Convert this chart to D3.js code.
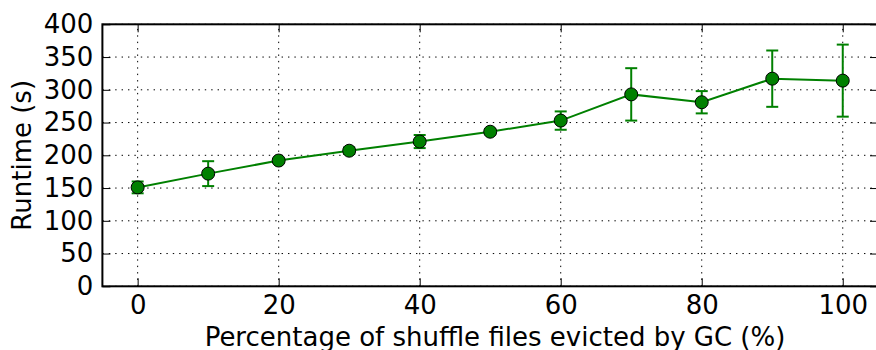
<!DOCTYPE html>
<html>
<head>
<meta charset="utf-8">
<script src="https://cdn.jsdelivr.net/npm/d3@7"></script>
<style>
  body { margin: 0; background: #fff; }
  svg { display: block; font-family: "DejaVu Sans", sans-serif; }
</style>
</head>
<body>
<svg id="chart"></svg>
<script>
const evicted = [0, 10, 20, 30, 40, 50, 60, 70, 80, 90, 100];
const runtime = [151, 172, 192, 207, 221, 236, 253, 293, 281, 317, 314];
const runtimeErr = [9, 19, 3, 5, 10, 4, 14, 40, 17, 43, 55];
const xTicks = [0, 20, 40, 60, 80, 100];
const yTicks = [0, 50, 100, 150, 200, 250, 300, 350, 400];

const width = 876;
const height = 350;
const margin = { top: 24.3, right: -2, bottom: 63.7, left: 102.4 };
const fontSize = 26;

const svg = d3.select("#chart").attr("width", width).attr("height", height);

const x = d3.scaleLinear()
  .domain([-5, 105])
  .range([margin.left, width - margin.right]);
const y = d3.scaleLinear()
  .domain([0, 400])
  .range([height - margin.bottom, margin.top]);

const x0 = x.range()[0], x1 = x.range()[1];
const y0 = y.range()[0], y1 = y.range()[1];

// grid
const grid = svg.append("g")
  .attr("stroke", "#000")
  .attr("stroke-width", 1)
  .attr("stroke-dasharray", "1.4,5");
grid.selectAll(".gx").data(xTicks).enter().append("line")
  .attr("x1", d => x(d)).attr("x2", d => x(d))
  .attr("y1", y0).attr("y2", y1);
grid.selectAll(".gy").data(yTicks).enter().append("line")
  .attr("x1", x0).attr("x2", x1)
  .attr("y1", d => y(d)).attr("y2", d => y(d));

// axes (inward ticks on all four sides)
svg.append("g")
  .attr("transform", `translate(0,${y0})`)
  .call(d3.axisBottom(x).tickValues(xTicks).tickSize(-8).tickPadding(9).tickFormat(d3.format("d")))
  .call(g => g.select(".domain").remove());
svg.append("g")
  .attr("transform", `translate(0,${y1})`)
  .call(d3.axisTop(x).tickValues(xTicks).tickSize(-8).tickFormat(""))
  .call(g => g.select(".domain").remove());
svg.append("g")
  .attr("transform", `translate(${x0},0)`)
  .call(d3.axisLeft(y).tickValues(yTicks).tickSize(-8).tickPadding(9).tickFormat(d3.format("d")))
  .call(g => g.select(".domain").remove());
svg.append("g")
  .attr("transform", `translate(${x1},0)`)
  .call(d3.axisRight(y).tickValues(yTicks).tickSize(-8).tickFormat(""))
  .call(g => g.select(".domain").remove());

svg.selectAll(".tick line").attr("stroke", "#000").attr("stroke-width", 1);
svg.selectAll(".tick text")
  .attr("font-size", fontSize)
  .attr("font-family", "DejaVu Sans")
  .attr("fill", "#000");

svg.append("rect")
  .attr("x", x0).attr("y", y1)
  .attr("width", x1 - x0).attr("height", y0 - y1)
  .attr("fill", "none")
  .attr("stroke", "#000")
  .attr("stroke-width", 2);

// error bars
const pts = evicted.map((d, i) => ({ x: d, v: runtime[i], e: runtimeErr[i] }));
const eb = svg.append("g").attr("stroke", "#008000").attr("stroke-width", 2);
eb.selectAll(".ev").data(pts).enter().append("line")
  .attr("x1", d => x(d.x)).attr("x2", d => x(d.x))
  .attr("y1", d => y(d.v - d.e)).attr("y2", d => y(d.v + d.e));
eb.selectAll(".ct").data(pts).enter().append("line")
  .attr("x1", d => x(d.x) - 6).attr("x2", d => x(d.x) + 6)
  .attr("y1", d => y(d.v + d.e)).attr("y2", d => y(d.v + d.e));
eb.selectAll(".cb").data(pts).enter().append("line")
  .attr("x1", d => x(d.x) - 6).attr("x2", d => x(d.x) + 6)
  .attr("y1", d => y(d.v - d.e)).attr("y2", d => y(d.v - d.e));

// line and markers
svg.append("path")
  .datum(pts)
  .attr("fill", "none")
  .attr("stroke", "#008000")
  .attr("stroke-width", 2)
  .attr("d", d3.line().x(d => x(d.x)).y(d => y(d.v)));

svg.selectAll(".pt").data(pts).enter().append("circle")
  .attr("cx", d => x(d.x))
  .attr("cy", d => y(d.v))
  .attr("r", 6.5)
  .attr("fill", "#008000")
  .attr("stroke", "#000")
  .attr("stroke-width", 1);

// axis titles
svg.append("text")
  .attr("x", 495)
  .attr("y", 346)
  .attr("text-anchor", "middle")
  .attr("font-size", fontSize)
  .text("Percentage of shuffle files evicted by GC (%)");

svg.append("text")
  .attr("transform", `translate(31,${(y0 + y1) / 2}) rotate(-90)`)
  .attr("text-anchor", "middle")
  .attr("font-size", fontSize)
  .text("Runtime (s)");
</script>
</body>
</html>
